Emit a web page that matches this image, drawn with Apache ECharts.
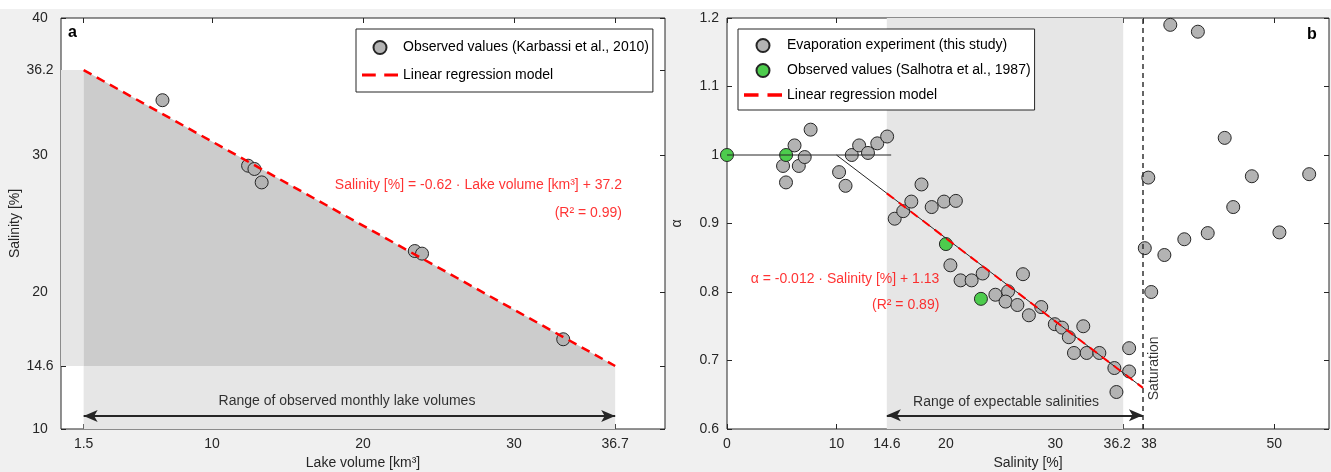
<!DOCTYPE html>
<html>
<head>
<meta charset="utf-8">
<title>Salinity and alpha</title>
<script src="https://cdn.jsdelivr.net/npm/echarts@6/dist/echarts.min.js"></script>
<style>
html, body { margin: 0; background: #f0f0f0; }
#main { width: 1331px; height: 472px; }
</style>
</head>
<body>
<div id="main"></div>
<script>
// panel a: lake volume [km3] against salinity [%]
var volObs = [6.72, 12.39, 12.81, 13.29, 23.43, 23.91, 33.26];
var salObs = [34.0, 29.22, 28.98, 28.0, 22.99, 22.8, 16.55];
var volFit = [1.5, 36.7];
var salFit = [36.2, 14.6];
var ticksVol = [1.5, 10, 20, 30, 36.7];
var ticksSalA = [10, 14.6, 20, 30, 36.2, 40];

// panel b: salinity [%] against alpha
var salExp = [5.12, 5.39, 6.17, 6.56, 7.10, 7.64, 10.24, 10.83, 11.40, 12.07, 12.88, 13.73, 14.63,
  15.32, 16.10, 16.84, 17.77, 18.70, 19.83, 20.91, 20.41, 21.34, 22.35, 23.36, 24.52, 25.68, 25.45,
  26.53, 27.04, 27.58, 28.71, 29.95, 30.61, 31.23, 32.55, 31.70, 32.86, 34.02, 35.39, 35.58, 36.74,
  36.74, 38.17, 38.49, 38.76, 39.96, 40.50, 41.78, 43.02, 43.92, 45.47, 46.25, 47.95, 50.47, 53.19];
var alphaExp = [0.984, 0.960, 1.014, 0.984, 0.997, 1.037, 0.975, 0.955, 1.0, 1.014, 1.003, 1.017, 1.027,
  0.907, 0.918, 0.932, 0.957, 0.924, 0.932, 0.933, 0.839, 0.817, 0.817, 0.827, 0.796, 0.801, 0.786,
  0.781, 0.826, 0.766, 0.778, 0.753, 0.748, 0.734, 0.750, 0.711, 0.711, 0.711, 0.689, 0.654, 0.718,
  0.684, 0.864, 0.967, 0.800, 0.854, 1.190, 0.877, 1.180, 0.886, 1.025, 0.924, 0.969, 0.887, 0.972];
var salLit = [0, 5.4, 20, 23.2];
var alphaLit = [1.0, 1.0, 0.87, 0.79];
var salFitB = [14.6, 38];
var alphaFitB = [0.944, 0.66];
var salTrend = [10, 38];
var alphaTrend = [1.0, 0.66];
var salFlat = [0, 15];
var alphaFlat = [1.0, 1.0];
var ticksSalB = [0, 10, 14.6, 20, 30, 36.2, 38, 50];
var ticksAlpha = [0.6, 0.7, 0.8, 0.9, 1, 1.1, 1.2];

var ink = '#262626';
var red = '#ff0000';
var fs = 14;
var dashIcon = 'path://M0,0h13v3h-13z M21,0h13v3h-13z';

function pairs(xs, ys) {
  return xs.map(function (x, i) { return [x, ys[i]]; });
}

// an axis with inside ticks at given values
function axis(pos, grid, min, max, ticks, withLabels, extra) {
  var a = {
    type: 'value', gridIndex: grid, position: pos, min: min, max: max,
    splitLine: { show: false },
    axisLine: { show: false, onZero: false },
    axisTick: { show: true, inside: true, length: 5, lineStyle: { color: ink }, customValues: ticks },
    axisLabel: { show: withLabels, customValues: ticks, color: ink, fontSize: fs }
  };
  for (var k in extra) a[k] = extra[k];
  return a;
}

// a text placed at data coordinates
function note(xi, yi, x, y, text, label) {
  var l = { show: true, formatter: text, color: red, fontSize: fs };
  for (var k in label) l[k] = label[k];
  return {
    type: 'scatter', xAxisIndex: xi, yAxisIndex: yi, silent: true, z: 6,
    symbolSize: 0, data: [[x, y]], label: l
  };
}

var dotStyle = { color: '#b3b3b3', borderColor: ink, borderWidth: 1, opacity: 1 };

var chart = echarts.init(document.getElementById('main'));
var option = {
  backgroundColor: '#f0f0f0',
  animation: false,
  textStyle: { fontFamily: 'Liberation Sans' },
  title: [
    { text: 'a', left: 68, top: 25, padding: 0, textStyle: { fontSize: 16, fontWeight: 'bold', color: '#000' } },
    { text: 'b', left: 1307, top: 27, padding: 0, textStyle: { fontSize: 16, fontWeight: 'bold', color: '#000' } }
  ],
  graphic: [
    { type: 'rect', left: 0, top: 0, z: -10, shape: { width: 1331, height: 9 }, style: { fill: '#fff' } }
  ],
  legend: [
    {
      data: [
        { name: 'Observed values (Karbassi et al., 2010)' },
        { name: 'Linear regression model', icon: dashIcon }
      ],
      orient: 'vertical', left: 356, top: 29, padding: [11, 4, 10, 6],
      itemWidth: 36, itemHeight: 13, itemGap: 13,
      backgroundColor: '#fff', borderColor: ink, borderWidth: 1,
      selectedMode: false, textStyle: { fontSize: fs, color: '#000' }
    },
    {
      data: [
        { name: 'Evaporation experiment (this study)' },
        { name: 'Observed values (Salhotra et al., 1987)' },
        { name: 'Linear regression model', icon: dashIcon }
      ],
      orient: 'vertical', left: 738, top: 29, padding: [9, 4, 8, 6],
      itemWidth: 38, itemHeight: 13, itemGap: 10,
      backgroundColor: '#fff', borderColor: ink, borderWidth: 1,
      selectedMode: false, textStyle: { fontSize: fs, color: '#000' }
    }
  ],
  grid: [
    { left: 61, top: 18, width: 604, height: 411, outerBoundsMode: 'none', show: true, backgroundColor: '#fff', borderColor: ink, borderWidth: 1 },
    { left: 727, top: 18, width: 602, height: 411, outerBoundsMode: 'none', show: true, backgroundColor: '#fff', borderColor: ink, borderWidth: 1 }
  ],
  xAxis: [
    axis('bottom', 0, 0, 40, ticksVol, true, {
      name: 'Lake volume [km³]', nameLocation: 'middle', nameGap: 27,
      nameTextStyle: { color: ink, fontSize: fs }
    }),
    axis('top', 0, 0, 40, ticksVol, false, {}),
    axis('bottom', 1, 0, 55, ticksSalB, true, {
      name: 'Salinity [%]', nameLocation: 'middle', nameGap: 26,
      nameTextStyle: { color: ink, fontSize: fs }
    }),
    axis('top', 1, 0, 55, ticksSalB, false, {})
  ],
  yAxis: [
    axis('left', 0, 10, 40, ticksSalA, true, {
      name: 'Salinity [%]', nameLocation: 'middle', nameGap: 36,
      nameTextStyle: { color: ink, fontSize: fs }
    }),
    axis('right', 0, 10, 40, ticksSalA, false, {}),
    axis('left', 1, 0.6, 1.2, ticksAlpha, true, {
      name: 'α', nameLocation: 'middle', nameGap: 43,
      nameTextStyle: { color: ink, fontSize: fs }
    }),
    axis('right', 1, 0.6, 1.2, ticksAlpha, false, {})
  ],
  series: [
    // panel a: shaded ranges
    {
      type: 'line', xAxisIndex: 0, yAxisIndex: 0, silent: true, symbol: 'none', z: 1,
      data: pairs(volFit, salFit),
      lineStyle: { opacity: 0 },
      areaStyle: { color: '#cccccc', opacity: 1, origin: salFit[1] },
      markArea: {
        silent: true,
        itemStyle: { color: '#e6e6e6' },
        data: [
          [{ coord: [0, salFit[1]] }, { coord: [volFit[0], salFit[0]] }],
          [{ coord: [volFit[0], 10] }, { coord: [volFit[1], salFit[1]] }]
        ]
      },
      markLine: {
        silent: true, symbol: ['arrow', 'arrow'], symbolSize: [9, 14],
        label: { show: false },
        lineStyle: { color: ink, width: 2, type: 'solid' },
        data: [[{ coord: [volFit[0], 10.95] }, { coord: [volFit[1], 10.95] }]]
      }
    },
    {
      name: 'Observed values (Karbassi et al., 2010)',
      type: 'scatter', xAxisIndex: 0, yAxisIndex: 0, symbolSize: 13, z: 3,
      itemStyle: dotStyle,
      data: pairs(volObs, salObs)
    },
    {
      name: 'Linear regression model',
      type: 'line', xAxisIndex: 0, yAxisIndex: 0, symbol: 'none', z: 4,
      lineStyle: { color: red, width: 2.5, type: [9, 6] },
      itemStyle: { color: red },
      data: pairs(volFit, salFit)
    },
    note(0, 0, 37.15, 27.8, 'Salinity [%] = -0.62 · Lake volume [km³] + 37.2', { position: 'left', distance: 0 }),
    note(0, 0, 37.15, 25.75, '(R² = 0.99)', { position: 'left', distance: 0 }),
    note(0, 0, 18.94, 12.0, 'Range of observed monthly lake volumes', { position: 'inside', color: '#000' }),

    // panel b: shaded range, saturation line and arrow
    {
      type: 'line', xAxisIndex: 2, yAxisIndex: 2, silent: true, symbol: 'none', z: 1,
      data: [],
      markArea: {
        silent: true,
        itemStyle: { color: '#e6e6e6' },
        data: [[{ xAxis: 14.6 }, { xAxis: 36.2 }]]
      },
      markLine: {
        silent: true, symbol: 'none', label: { show: false },
        data: [
          { xAxis: 38, lineStyle: { color: '#333', width: 1.5, type: [5, 4] } },
          [
            { coord: [14.6, 0.62], symbol: 'arrow', symbolSize: [9, 14], lineStyle: { color: ink, width: 2, type: 'solid' } },
            { coord: [38, 0.62], symbol: 'arrow', symbolSize: [9, 14] }
          ]
        ]
      }
    },
    {
      name: 'Evaporation experiment (this study)',
      type: 'scatter', xAxisIndex: 2, yAxisIndex: 2, symbolSize: 13, z: 3,
      itemStyle: dotStyle,
      data: pairs(salExp, alphaExp)
    },
    {
      name: 'Observed values (Salhotra et al., 1987)',
      type: 'scatter', xAxisIndex: 2, yAxisIndex: 2, symbolSize: 13, z: 3,
      itemStyle: { color: '#4dcc4d', borderColor: ink, borderWidth: 1, opacity: 1 },
      data: pairs(salLit, alphaLit)
    },
    {
      type: 'line', xAxisIndex: 2, yAxisIndex: 2, silent: true, symbol: 'none', z: 4,
      lineStyle: { color: ink, width: 1 },
      data: pairs(salFlat, alphaFlat)
    },
    {
      type: 'line', xAxisIndex: 2, yAxisIndex: 2, silent: true, symbol: 'none', z: 4,
      lineStyle: { color: ink, width: 1 },
      data: pairs(salTrend, alphaTrend)
    },
    {
      name: 'Linear regression model',
      type: 'line', xAxisIndex: 2, yAxisIndex: 2, symbol: 'none', z: 5,
      lineStyle: { color: red, width: 2, type: [9, 6] },
      itemStyle: { color: red },
      data: pairs(salFitB, alphaFitB)
    },
    note(2, 2, 19.4, 0.8185, 'α = -0.012 · Salinity [%] + 1.13', { position: 'left', distance: 0 }),
    note(2, 2, 19.4, 0.781, '(R² = 0.89)', { position: 'left', distance: 0 }),
    note(2, 2, 25.5, 0.639, 'Range of expectable salinities', { position: 'inside', color: '#000' }),
    note(2, 2, 39.0, 0.642, 'Saturation', { position: 'inside', color: '#000', rotate: 90, align: 'left', verticalAlign: 'middle' })
  ]
};

// left panel: labels centred under the axis, like the reference
option.yAxis[0].axisLabel.align = 'center';
option.yAxis[0].axisLabel.margin = 21;
// right panel: pull the crowded 36.2 and 38 labels apart
option.xAxis[2].axisLabel.formatter = function (v) {
  if (v === 36.2) return '{l|36.2}';
  if (v === 38) return '{r|38}';
  return String(v);
};
option.xAxis[2].axisLabel.rich = {
  l: { fontSize: fs, color: ink, padding: [0, 12, 0, 0] },
  r: { fontSize: fs, color: ink, padding: [0, 0, 0, 12] }
};

chart.setOption(option);
</script>
</body>
</html>
